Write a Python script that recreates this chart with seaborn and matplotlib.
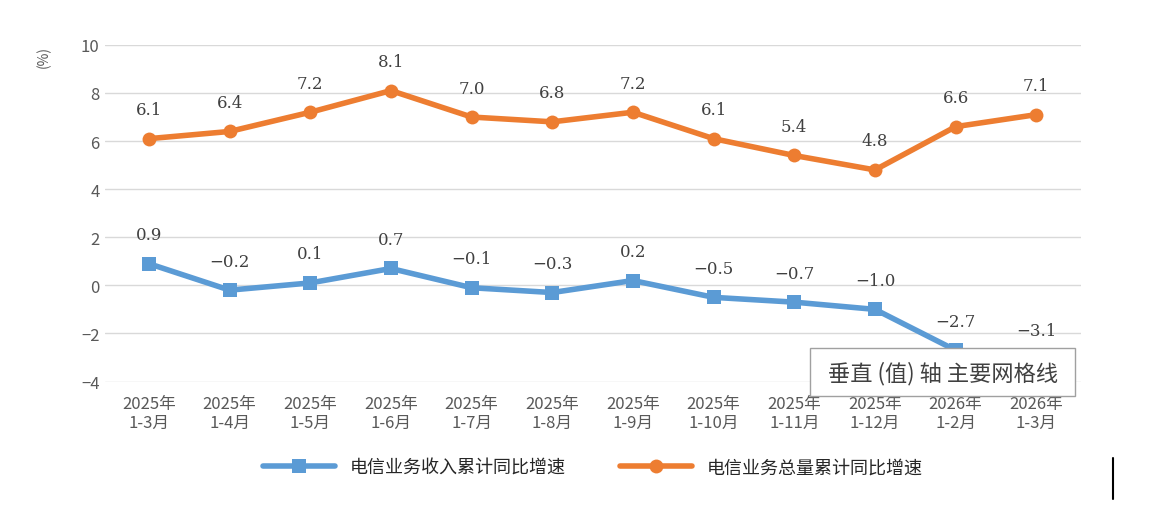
import matplotlib
matplotlib.use("Agg")
import matplotlib.pyplot as plt
import seaborn as sns
import pandas as pd

sns.set_theme(style="white")
plt.rcParams['font.family'] = ['Noto Sans CJK SC', 'DejaVu Sans']

periods = ["2025年\n1-3月", "2025年\n1-4月", "2025年\n1-5月", "2025年\n1-6月", "2025年\n1-7月",
           "2025年\n1-8月", "2025年\n1-9月", "2025年\n1-10月", "2025年\n1-11月", "2025年\n1-12月",
           "2026年\n1-2月", "2026年\n1-3月"]
revenue = [0.9, -0.2, 0.1, 0.7, -0.1, -0.3, 0.2, -0.5, -0.7, -1.0, -2.7, -3.1]
volume = [6.1, 6.4, 7.2, 8.1, 7.0, 6.8, 7.2, 6.1, 5.4, 4.8, 6.6, 7.1]
names = ["电信业务收入累计同比增速", "电信业务总量累计同比增速"]
colors = ["#5B9BD5", "#ED7D31"]

df = pd.DataFrame({"x": list(range(len(periods))) * 2,
                   "v": revenue + volume,
                   "s": [names[0]] * len(periods) + [names[1]] * len(periods)})

fig, ax = plt.subplots(figsize=(11.62, 5.1), dpi=100)
fig.subplots_adjust(left=0.09, right=0.93, top=0.91, bottom=0.25)
sns.lineplot(data=df, x="x", y="v", hue="s", style="s", palette=colors,
             markers=["s", "o"], dashes=False, linewidth=4, markersize=10,
             markeredgewidth=0, ax=ax)

for vals in (revenue, volume):
    for i, v in enumerate(vals):
        ax.text(i, v + 0.85, f"{v:.1f}".replace("-", "−"), ha="center", va="bottom",
                fontsize=12, color="#404040", family=["DejaVu Serif"])

ax.set_xlim(-0.55, len(periods) - 0.45)
ax.set_ylim(-4, 10)
ax.set_yticks(range(-4, 11, 2))
ax.set_yticklabels([str(t).replace("-", "−") for t in range(-4, 11, 2)], fontsize=12, color="#595959")
ax.set_xticks(range(len(periods)))
ax.set_xticklabels(periods, fontsize=12, color="#595959", linespacing=1.1)
ax.tick_params(axis="x", pad=10)
ax.yaxis.grid(True, color="#D9D9D9", linewidth=1)
ax.set_xlabel("")
ax.set_ylabel("")
for s in ax.spines.values():
    s.set_visible(False)
ax.tick_params(length=0)
ax.text(-0.07, 1.0, "(%)", transform=ax.transAxes, fontsize=10, color="#595959",
        rotation=90, va="top")

ax.legend(loc="upper center", bbox_to_anchor=(0.5, -0.18), ncol=2, frameon=False,
          fontsize=13, handlelength=4, columnspacing=3)

fig.text(0.708, 0.255, " 垂直 (值) 轴 主要网格线 ", fontsize=16, color="#404040",
         bbox=dict(boxstyle="square,pad=0.55", fc="white", ec="#A0A0A0"), zorder=10)
fig.add_artist(plt.Line2D([0.958, 0.958], [0.02, 0.1], color="black", linewidth=1.5))

fig.savefig("out.png", dpi=100)
